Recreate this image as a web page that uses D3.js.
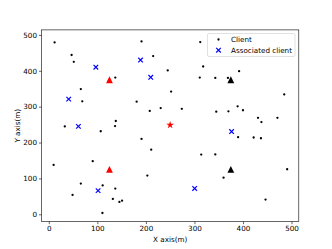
<!DOCTYPE html>
<html>
<head>
<meta charset="utf-8">
<script src="https://cdn.jsdelivr.net/npm/d3@7"></script>
<style>
  body { margin: 0; background: #fff; }
  svg { display: block; font-family: "DejaVu Sans", sans-serif; }
</style>
</head>
<body>
<svg id="chart" width="332" height="249"></svg>
<script>
// Clients (black dots)
const clientX = [12, 47, 51.5, 137, 66, 69, 138, 181, 208, 230.5, 191, 215, 312, 318, 245, 311, 343, 369, 392,
  252, 274, 345, 370, 389, 400, 431, 438, 471, 485, 33, 107, 136.5, 191, 211, 390, 422, 437, 314, 343, 360,
  491, 446.5, 10, 90.5, 203, 66, 111, 137, 49, 132, 145.5, 151, 110.5]
const clientY = [479, 444, 425, 381, 349, 315, 260, 314, 288, 296, 482, 441, 480, 412, 401, 381, 380, 380, 399,
  342, 294, 286, 287, 301, 290, 269, 257, 269, 334, 245, 231.5, 246, 210, 180, 215, 214, 212, 166.5, 167, 102,
  125.5, 41, 137.6, 148, 108, 85.6, 80.5, 71.6, 54, 42.7, 34.4, 38, 3.6]

// Associated clients (blue x)
const assocX = [97, 189, 210, 41, 61, 376.5, 101.6, 300.5]
const assocY = [410, 430, 382, 321, 245, 230.5, 66, 72]

// Access points
const redTriX = [125, 125]
const redTriY = [375, 125]
const blackTriX = [375, 375]
const blackTriY = [375, 125]
const starX = [250]
const starY = [250]

const xTicks = [0, 100, 200, 300, 400, 500]
const yTicks = [0, 100, 200, 300, 400, 500]
const legendLabels = ["Client", "Associated client"]

const zip = (xs, ys) => xs.map((x, i) => ({ x, y: ys[i] }))

const m = { left: 41.5, right: 298.8, top: 29.9, bottom: 221.6 }
const svg = d3.select("#chart")

const x = d3.scaleLinear().domain([-15, 515]).range([m.left, m.right])
const y = d3.scaleLinear().domain([-20.4, 514]).range([m.bottom, m.top])

// axes
const xAxis = svg.append("g")
  .attr("transform", `translate(0,${m.bottom})`)
  .call(d3.axisBottom(x).tickValues(xTicks).tickSize(2.5).tickPadding(2))
const yAxis = svg.append("g")
  .attr("transform", `translate(${m.left},0)`)
  .call(d3.axisLeft(y).tickValues(yTicks).tickSize(2.5).tickPadding(2))

;[xAxis, yAxis].forEach((a) => {
  a.select(".domain").remove()
  a.selectAll("line").attr("stroke", "#000").attr("stroke-width", 0.6)
  a.selectAll("text").attr("font-size", 7.2).attr("fill", "#000").attr("font-family", "DejaVu Sans")
})

// frame
svg.append("rect")
  .attr("x", m.left).attr("y", m.top)
  .attr("width", m.right - m.left).attr("height", m.bottom - m.top)
  .attr("fill", "none").attr("stroke", "#000").attr("stroke-width", 0.6)

// axis labels
svg.append("text")
  .attr("x", (m.left + m.right) / 2).attr("y", 242)
  .attr("text-anchor", "middle").attr("font-size", 7.2)
  .text("X axis(m)")
svg.append("text")
  .attr("transform", `translate(19.5,${(m.top + m.bottom) / 2}) rotate(-90)`)
  .attr("text-anchor", "middle").attr("font-size", 7.2)
  .text("Y axis(m)")

const marks = svg.append("g")

marks.selectAll("circle.client")
  .data(zip(clientX, clientY))
  .join("circle")
  .classed("client", true)
  .attr("cx", (d) => x(d.x))
  .attr("cy", (d) => y(d.y))
  .attr("r", 1.15)
  .attr("fill", "#000")

const xr = 2.3
const xPath = (cx, cy) =>
  `M${cx - xr},${cy - xr}L${cx + xr},${cy + xr}M${cx - xr},${cy + xr}L${cx + xr},${cy - xr}`

marks.selectAll("path.assoc")
  .data(zip(assocX, assocY))
  .join("path")
  .classed("assoc", true)
  .attr("d", (d) => xPath(x(d.x), y(d.y)))
  .attr("stroke", "#0000ff")
  .attr("stroke-width", 1.2)

// matplotlib style "^" triangle, centred on its bounding box
const tri = (s) => `M0,${-s}L${s},${s}L${-s},${s}Z`
const triSize = 3.4

marks.selectAll("path.redtri")
  .data(zip(redTriX, redTriY))
  .join("path")
  .attr("transform", (d) => `translate(${x(d.x)},${y(d.y)})`)
  .attr("d", tri(triSize))
  .attr("fill", "#ff0000")

marks.selectAll("path.blacktri")
  .data(zip(blackTriX, blackTriY))
  .join("path")
  .attr("transform", (d) => `translate(${x(d.x)},${y(d.y)})`)
  .attr("d", tri(triSize))
  .attr("fill", "#000")

marks.selectAll("path.star")
  .data(zip(starX, starY))
  .join("path")
  .attr("transform", (d) => `translate(${x(d.x)},${y(d.y) + 0.4})`)
  .attr("d", d3.symbol(d3.symbolStar, 18))
  .attr("fill", "#ff0000")

// legend
const lg = svg.append("g").attr("transform", "translate(207.5,33.5)")
lg.append("rect")
  .attr("width", 87.5).attr("height", 23)
  .attr("rx", 1.5)
  .attr("fill", "#fff").attr("fill-opacity", 0.8)
  .attr("stroke", "#ccc").attr("stroke-width", 0.6)

legendLabels.forEach((label, i) => {
  const ly = 6 + i * 10.7
  if (i === 0) {
    lg.append("circle").attr("cx", 11).attr("cy", ly).attr("r", 1.15).attr("fill", "#000")
  } else {
    lg.append("path")
      .attr("d", xPath(11, ly))
      .attr("stroke", "#0000ff").attr("stroke-width", 1.2)
  }
  lg.append("text")
    .attr("x", 23.5).attr("y", ly)
    .attr("dy", "0.35em")
    .attr("font-size", 7.2)
    .text(label)
})
</script>
</body>
</html>
